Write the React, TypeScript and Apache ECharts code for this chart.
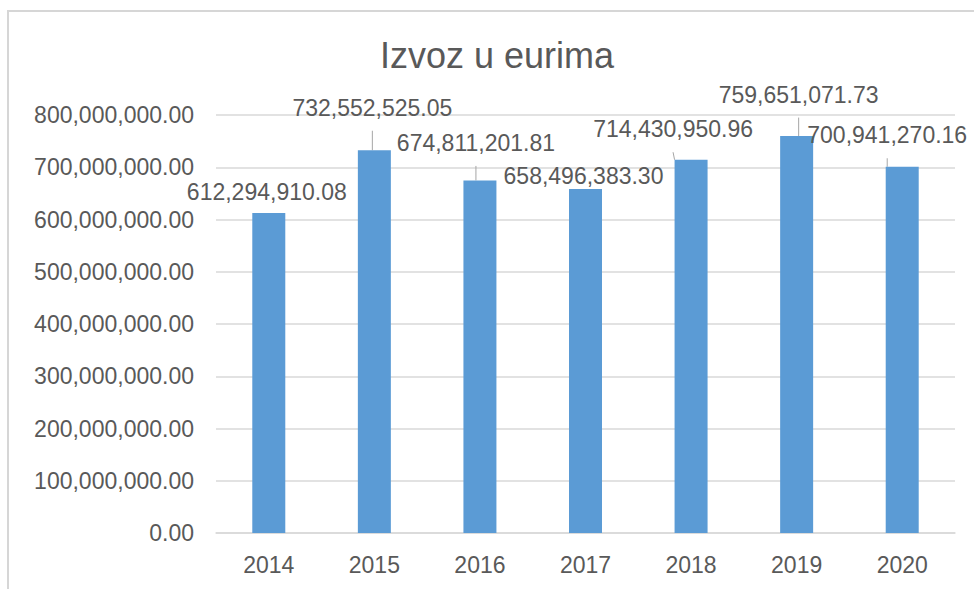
import React, { useEffect, useRef } from "react";
import * as echarts from "echarts";

const categories = ["2014", "2015", "2016", "2017", "2018", "2019", "2020"];
const exportValues = [
  612294910.08, 732552525.05, 674811201.81, 658496383.3, 714430950.96,
  759651071.73, 700941270.16,
];
const yTicks = { min: 0, max: 800000000, interval: 100000000 };
// label displacement [dx, dy] from the default top position (layout only)
const labelOffsets: [number, number][] = [
  [-2, -10],
  [-2, -31],
  [-4, -26],
  [-2, -1],
  [-18, -19],
  [2, -30],
  [-15, -20],
];

const FONT = "'Liberation Sans', Arial, Helvetica, sans-serif";
const TEXT = "#595959";

const fmt = (v: number) =>
  v.toLocaleString("en-US", { minimumFractionDigits: 2, maximumFractionDigits: 2 });

export default function App() {
  const ref = useRef<HTMLDivElement>(null);
  useEffect(() => {
    if (!ref.current) return;
    const chart = echarts.init(ref.current, undefined, { renderer: "svg" });
    chart.setOption({
      animation: false,
      backgroundColor: "#ffffff",
      textStyle: { fontFamily: FONT },
      title: {
        text: "Izvoz u eurima",
        left: 380,
        top: 37,
        padding: 0,
        textStyle: {
          fontFamily: FONT,
          fontSize: 36,
          lineHeight: 36,
          fontWeight: "normal",
          color: TEXT,
        },
      },
      graphic: [
        {
          type: "rect",
          shape: { x: 8, y: 11, width: 1000, height: 620 },
          style: { fill: "none", stroke: "#d6d6d6", lineWidth: 2 },
          silent: true,
        },
      ],
      grid: { left: 216, right: 19, top: 115, bottom: 56, containLabel: false },
      xAxis: {
        type: "category",
        data: categories,
        axisLine: { lineStyle: { color: "#d9d9d9", width: 1.5 } },
        axisTick: { show: false },
        axisLabel: { color: TEXT, fontSize: 23, margin: 20, fontFamily: FONT },
      },
      yAxis: {
        type: "value",
        min: yTicks.min,
        max: yTicks.max,
        interval: yTicks.interval,
        axisLine: { show: false },
        axisTick: { show: false },
        splitLine: { lineStyle: { color: "#d9d9d9", width: 1.5 } },
        axisLabel: {
          color: TEXT,
          fontSize: 23,
          margin: 22,
          fontFamily: FONT,
          formatter: (v: number) => fmt(v),
        },
      },
      series: [
        {
          type: "bar",
          data: exportValues.map((v, i) => ({
            value: v,
            label: { offset: labelOffsets[i] },
          })),
          barWidth: 33,
          itemStyle: { color: "#5b9bd5" },
          label: {
            show: true,
            position: "top",
            distance: 0,
            color: TEXT,
            fontSize: 23,
            lineHeight: 23,
            fontFamily: FONT,
            formatter: (p: any) => fmt(p.value),
          },
          labelLine: {
            show: true,
            lineStyle: { color: "#a6a6a6", width: 1 },
          },
        },
      ],
    });
    return () => chart.dispose();
  }, []);
  return (
    <div
      ref={ref}
      style={{ position: "absolute", left: 0, top: 0, width: 974, height: 589 }}
    />
  );
}
